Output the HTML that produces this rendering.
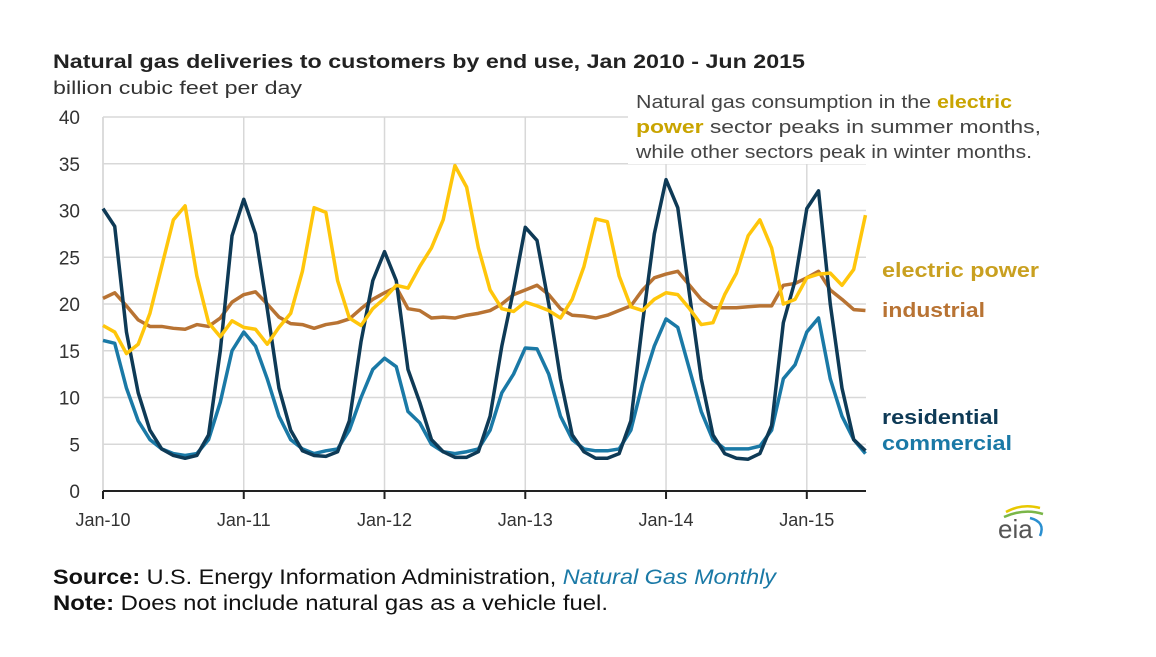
<!DOCTYPE html>
<html><head><meta charset="utf-8"><style>
body{margin:0;background:#fff;width:1156px;height:652px;overflow:hidden;font-family:"Liberation Sans",sans-serif}
svg text{font-family:"Liberation Sans",sans-serif}
</style></head><body>
<svg id="chart" width="1156" height="652" xmlns="http://www.w3.org/2000/svg">
<text x="53" y="68" font-size="19" font-weight="bold" fill="#222" textLength="752" lengthAdjust="spacingAndGlyphs">Natural gas deliveries to customers  by end use, Jan 2010 - Jun 2015</text>
<text x="53" y="94" font-size="18" fill="#333" textLength="249" lengthAdjust="spacingAndGlyphs">billion cubic feet per day</text>
<g id="grid"></g>
<g id="series"></g>
<rect x="628" y="84" width="420" height="80" fill="#fff"/>
<g font-size="18" fill="#444">
<text x="636" y="108" textLength="376" lengthAdjust="spacingAndGlyphs">Natural gas consumption in the <tspan font-weight="bold" fill="#c9a400">electric</tspan></text>
<text x="636" y="133" textLength="405" lengthAdjust="spacingAndGlyphs"><tspan font-weight="bold" fill="#c9a400">power</tspan> sector peaks in summer months,</text>
<text x="636" y="158" textLength="396" lengthAdjust="spacingAndGlyphs">while other sectors peak in winter months.</text>
</g>
<text x="882" y="277" font-size="20" font-weight="bold" fill="#c9a020" textLength="157" lengthAdjust="spacingAndGlyphs">electric power</text>
<text x="882" y="317" font-size="20" font-weight="bold" fill="#b87333" textLength="103" lengthAdjust="spacingAndGlyphs">industrial</text>
<text x="882" y="424" font-size="20" font-weight="bold" fill="#0e3a56" textLength="117" lengthAdjust="spacingAndGlyphs">residential</text>
<text x="882" y="450" font-size="20" font-weight="bold" fill="#1a79a6" textLength="130" lengthAdjust="spacingAndGlyphs">commercial</text>
<g>
<path d="M1006 512 Q1022 503 1040 508" stroke="#e8c800" stroke-width="2.5" fill="none"/>
<path d="M1004 517 Q1024 508 1043 514" stroke="#7ab648" stroke-width="2.5" fill="none"/>
<path d="M1030 518 Q1046 522 1040 536" stroke="#2a8fd0" stroke-width="2.5" fill="none"/>
<text x="998" y="538" font-size="26" font-family="Liberation Serif" fill="#555">eia</text>
</g>
<text x="53" y="584" font-size="21" fill="#111" textLength="723" lengthAdjust="spacingAndGlyphs"><tspan font-weight="bold">Source:</tspan> U.S. Energy Information Administration, <tspan font-style="italic" fill="#1a79a6">Natural Gas Monthly</tspan></text>
<text x="53" y="610" font-size="21" fill="#111" textLength="555" lengthAdjust="spacingAndGlyphs"><tspan font-weight="bold">Note:</tspan> Does not include natural gas as a vehicle fuel.</text>
</svg>
<script>
const xLabels=["Jan-10","Jan-11","Jan-12","Jan-13","Jan-14","Jan-15"];
const yTicks=[0,5,10,15,20,25,30,35,40];
const electric=[17.7,17,14.7,15.7,19,24,29,30.5,23,18,16.5,18.2,17.5,17.3,15.7,17.5,19,23.5,30.3,29.8,22.5,18.5,17.7,19.5,20.6,22,21.7,24,26,29,34.8,32.5,26,21.5,19.5,19.2,20.2,19.8,19.3,18.5,20.5,24,29.1,28.8,23,19.7,19.3,20.5,21.2,21,19.5,17.8,18,21,23.3,27.3,29,26,20,20.5,22.8,23.2,23.3,22,23.7,29.5];
const industrial=[20.6,21.2,19.8,18.3,17.6,17.6,17.4,17.3,17.8,17.6,18.5,20.2,21,21.3,20,18.6,17.9,17.8,17.4,17.8,18,18.4,19.5,20.5,21.2,21.8,19.5,19.3,18.5,18.6,18.5,18.8,19,19.3,20,21,21.5,22,21,19.5,18.8,18.7,18.5,18.8,19.3,19.8,21.5,22.8,23.2,23.5,22,20.5,19.6,19.6,19.6,19.7,19.8,19.8,22,22.2,22.8,23.5,21.5,20.5,19.4,19.3];
const residential=[30.2,28.3,17,10.5,6.5,4.5,3.8,3.5,3.8,6,15,27.3,31.2,27.5,19.5,11,6.5,4.3,3.8,3.7,4.2,7.5,16,22.5,25.6,22.5,13,9.5,5.5,4.2,3.6,3.6,4.2,8,15.5,21.5,28.2,26.8,20,12,6,4.2,3.5,3.5,4,7.5,18,27.5,33.3,30.3,21,12,6,4,3.5,3.4,4,7,18,22.5,30.2,32.1,20,11,5.5,4.3];
const commercial=[16.1,15.8,11,7.5,5.5,4.5,4,3.8,4,5.5,9.5,15,17,15.5,12,8,5.5,4.5,4,4.3,4.5,6.5,10,13,14.2,13.3,8.5,7.3,5,4.2,4,4.2,4.5,6.5,10.5,12.5,15.3,15.2,12.5,8,5.5,4.5,4.3,4.3,4.5,6.5,11.5,15.5,18.4,17.5,13,8.5,5.5,4.5,4.5,4.5,4.8,6.5,12,13.5,17,18.5,12,8,5.5,4];
const NS="http://www.w3.org/2000/svg";
const x0=103,pxMonth=11.73,y0=491,pxUnit=9.35,xRight=866;
const X=i=>x0+i*pxMonth, Y=v=>y0-v*pxUnit;
const grid=document.getElementById('grid'), ser=document.getElementById('series');
function mk(t,a,p){const e=document.createElementNS(NS,t);for(const k in a)e.setAttribute(k,a[k]);p.appendChild(e);return e;}
yTicks.forEach(v=>{
  const l=mk('line',{x1:x0,x2:xRight,y1:Y(v),y2:Y(v),stroke:v===0?'#222':'#d8d8d8','stroke-width':v===0?2:1.5},grid);
  
  
  const t=mk('text',{x:80,y:Y(v)+7,'font-size':19,fill:'#333','text-anchor':'end'},grid);t.textContent=v;
  
  
});
xLabels.forEach((s,k)=>{
  const x=X(k*12);
  const g=mk('line',{x1:x,x2:x,y1:Y(40),y2:y0,stroke:'#d8d8d8','stroke-width':1.5},grid);
  
  
  const tk=mk('line',{x1:x,x2:x,y1:y0,y2:y0+8,stroke:'#222','stroke-width':2},grid);
  
  
  const t=mk('text',{x:x,y:526,'font-size':18,fill:'#333','text-anchor':'middle'},grid);t.textContent=s;
  
  
});
const ya=mk('line',{x1:x0,x2:x0,y1:Y(40),y2:y0,stroke:'#d8d8d8','stroke-width':1.5},grid);


const xa=mk('line',{x1:x0,x2:xRight,y1:y0,y2:y0,stroke:'#222','stroke-width':2},grid);


[[industrial,'#b87333','industrial-line'],[commercial,'#1a79a6','commercial-line'],[residential,'#0e3a56','residential-line'],[electric,'#ffc60b','electric-power-line']].forEach(([d,c,n])=>{
  const p=mk('polyline',{points:d.map((v,i)=>X(i)+','+Y(v)).join(' '),fill:'none',stroke:c,'stroke-width':3.5,'stroke-linejoin':'round'},ser);
  
  
});
</script>
</body></html>
